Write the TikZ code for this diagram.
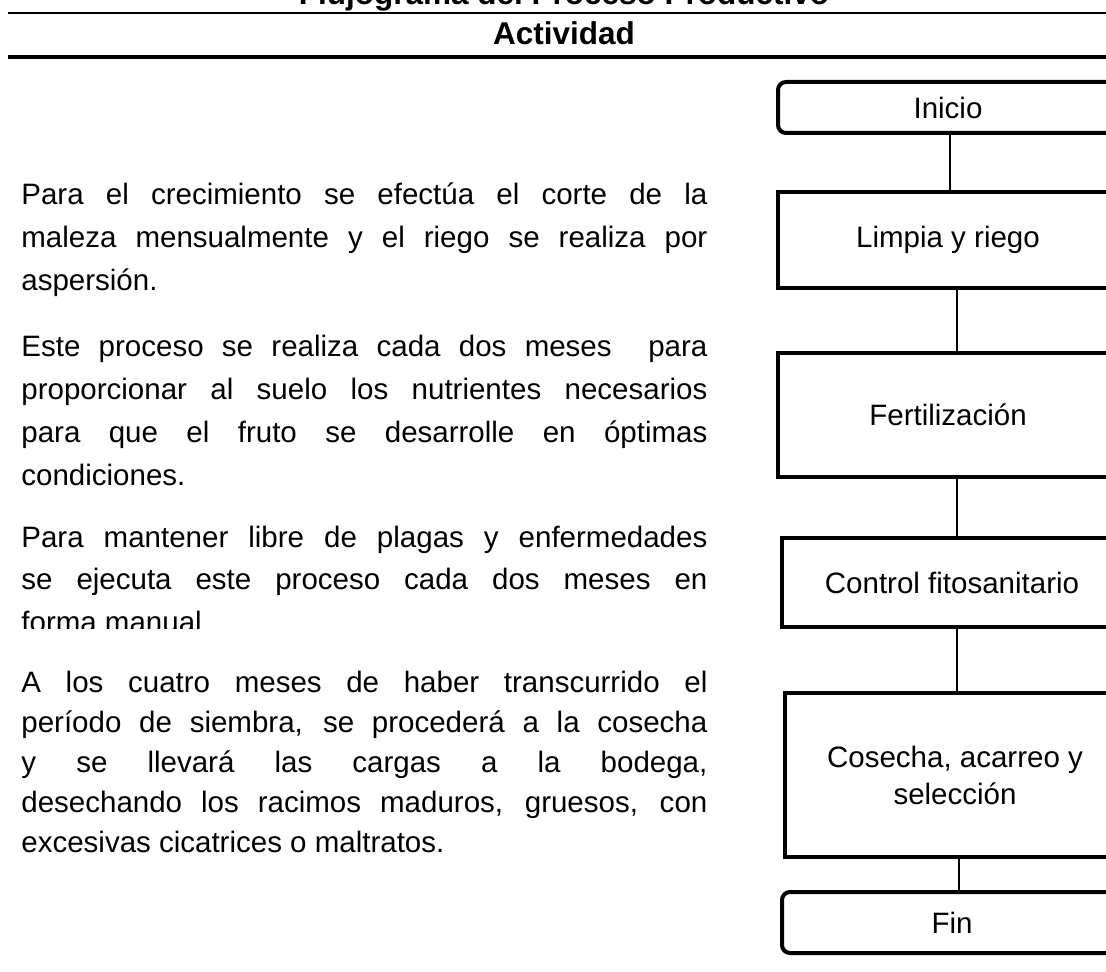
\documentclass[tikz,border=0pt]{standalone}
\usepackage{fontspec}
\setmainfont{Liberation Sans}
\usetikzlibrary{positioning}
\hbadness=10000

\begin{document}
\begin{tikzpicture}[x=0.5pt,y=-0.5pt,
  paso/.style={draw, line width=2pt, minimum width=170pt, inner sep=0pt,
    align=center, font=\fontsize{14.75pt}{18.5pt}\selectfont},
  extremo/.style={paso, rounded corners=4pt},
  parrafo/.style={anchor=base west, inner sep=0pt, text width=343pt,
    align=justify, font=\fontsize{14.75pt}{#1}\selectfont},
  parrafo/.default=21.5pt,
  cabecera/.style={anchor=base, inner sep=0pt, font=\bfseries\fontsize{15.75pt}{18pt}\selectfont},
  enlace/.style={line width=1pt}]
\useasboundingbox (0,0) rectangle (1106,972);

% Encabezado
\node[cabecera] (titulo) at (564,5) {Flujograma del Proceso Productivo};
\draw[line width=1.1pt] (8,13) -- (1106,13);
\node[cabecera] (actividad) at (564,45) {Actividad};
\draw[line width=1.6pt] (8,57) -- (1106,57);

% Descripcion de cada actividad
\node[parrafo] (p1) at (21,205) {Para el crecimiento se efectúa el corte de la\linebreak
  maleza mensualmente y el riego se realiza por\linebreak aspersión.};
\node[parrafo] (p2) at (21,357) {Este proceso se realiza cada dos meses \ para\linebreak
  proporcionar al suelo los nutrientes necesarios\linebreak
  para que el fruto se desarrolle en óptimas\linebreak condiciones.};
\begin{scope}
\clip (0,500) rectangle (760,628);
\node[parrafo=21.25pt] (p3) at (21,547) {Para mantener libre de plagas y enfermedades\linebreak
  se ejecuta este proceso cada dos meses en\linebreak forma manual};
\end{scope}
\node[parrafo=20pt] (p4) at (21,692) {A los cuatro meses de haber transcurrido el\linebreak
  período de siembra, se procederá a la cosecha\linebreak
  y se llevará las cargas a la bodega,\linebreak
  desechando los racimos maduros, gruesos, con\linebreak
  excesivas cicatrices o maltratos.};

% Flujograma
\node[extremo, minimum height=25.5pt] (inicio) at (948,107.5) {Inicio};
\node[paso, minimum height=48pt] (limpia) at (948,240) {Limpia y riego};
\node[paso, minimum height=62pt] (fertilizacion) at (948,415) {Fertilización};
\node[paso, minimum height=44.5pt] (control) at (952,582.5) {Control fitosanitario};
\node[paso, minimum height=82pt] (cosecha) at (955,775) {Cosecha, acarreo y\\selección};
\node[extremo, minimum height=30.5pt] (fin) at (952,922.5) {Fin};

\foreach \a/\b/\d in {inicio/limpia/1pt, limpia/fertilizacion/4.5pt,
    fertilizacion/control/4.5pt, control/cosecha/2.5pt, cosecha/fin/2pt}
  \draw[enlace] ([xshift=\d]\a.south) -- ([xshift=\d]\a.south |- \b.north);
\end{tikzpicture}
\end{document}
